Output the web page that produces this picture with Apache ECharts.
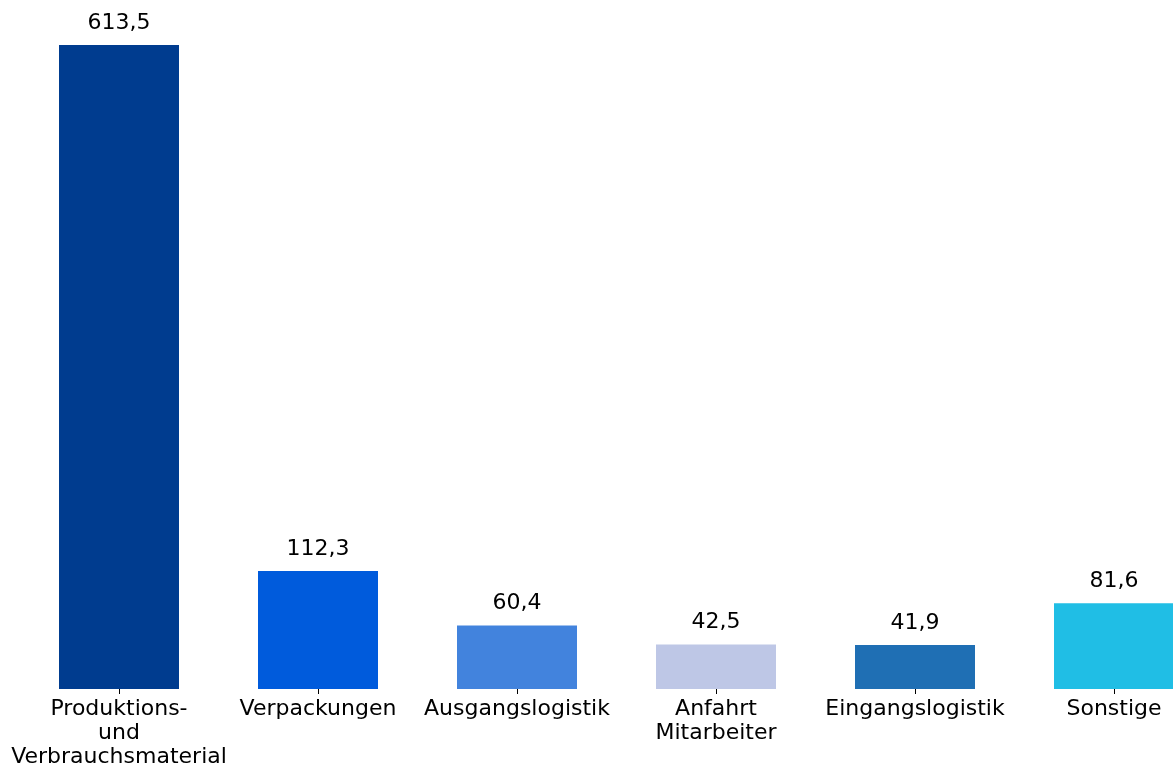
<!DOCTYPE html>
<html>
<head>
<meta charset="utf-8">
<script src="https://cdn.jsdelivr.net/npm/echarts@6/dist/echarts.min.js"></script>
<style>
  html, body { margin: 0; padding: 0; background: #fff; overflow: hidden; }
  #chart { width: 1214px; height: 769px; }
</style>
</head>
<body>
<div id="chart"></div>
<script>
const categories = ['Produktions-\nund\nVerbrauchsmaterial', 'Verpackungen', 'Ausgangslogistik', 'Anfahrt\nMitarbeiter', 'Eingangslogistik', 'Sonstige'];
const values = [613.5, 112.3, 60.4, 42.5, 41.9, 81.6];
const colors = ['#003C8F', '#005BDC', '#4283DD', '#BEC7E6', '#1F6FB4', '#20BEE5'];

// chart is a bit wider than the window so the last bar gets cut at the edge
let myChart = echarts.init(document.getElementById('chart'));

myChart.setOption({
    animation: false,
    textStyle: { fontFamily: 'DejaVu Sans' },
    grid: { left: 19.5, right: 0.5, top: 45, bottom: 79, containLabel: false },
    xAxis: {
        type: 'category',
        data: categories,
        axisLine: { show: false },
        axisTick: { show: true, alignWithLabel: true, length: 5, lineStyle: { color: '#000', width: 1 } },
        axisLabel: { color: '#000', fontSize: 22, lineHeight: 24, margin: 8, interval: 0 }
    },
    yAxis: {
        type: 'value',
        min: 0,
        max: 613.5,
        show: false,
        splitLine: { show: false }
    },
    series: [{
        type: 'bar',
        barWidth: 120,
        data: values.map((v, i) => ({ value: v, itemStyle: { color: colors[i] } })),
        label: {
            show: true,
            position: 'top',
            distance: 11,
            color: '#000',
            fontSize: 22,
            formatter: p => p.value.toFixed(1).replace('.', ',')
        }
    }]
});
</script>
</body>
</html>
